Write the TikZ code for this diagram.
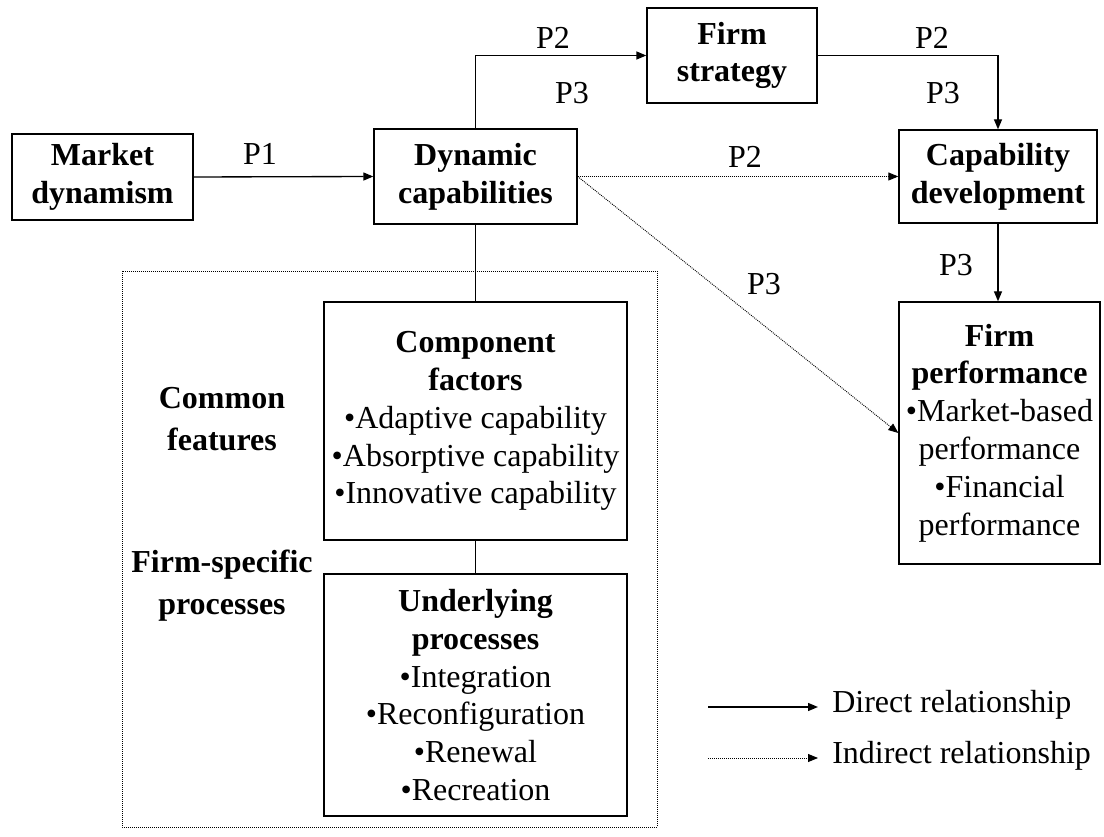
\documentclass[tikz,border=0pt]{standalone}
\usepackage{fontspec}
\setmainfont{Liberation Serif}
\usetikzlibrary{arrows.meta}
\begin{document}
\begin{tikzpicture}[x=0.75pt,y=-0.75pt,
  font=\fontsize{24}{28.4}\selectfont,
  box/.style={draw, line width=1pt, align=center, inner sep=0pt},
  conn/.style={line width=1pt, -{Triangle[length=7.5pt,width=6pt]}},
  dotconn/.style={line width=0.7pt, dash pattern=on 0.7pt off 0.8pt, -{Triangle[length=7.5pt,width=6pt]}},
  plain/.style={line width=1pt},
  lbl/.style={inner sep=0pt, align=center},
  sidelbl/.style={inner sep=0pt, align=center, font=\fontsize{24}{31.5}\selectfont\bfseries}]
\useasboundingbox (0,0) rectangle (1104,837);
% dotted frame
\draw[line width=0.7pt, dash pattern=on 0.7pt off 0.8pt] (122,271) rectangle (657,827);
% boxes
\node[box, minimum width=135.75pt, minimum height=64.5pt] (md) at (102.5,177) {\textbf{Market}\\\textbf{dynamism}};
\node[box, minimum width=152.25pt, minimum height=71.25pt] (dyn) at (475.5,176.5) {\textbf{Dynamic}\\\textbf{capabilities}};
\node[box, minimum width=127.5pt, minimum height=71.25pt] (fs) at (732,55.5) {\textbf{Firm}\\\textbf{strategy}};
\node[box, minimum width=148.5pt, minimum height=69.75pt] (cap) at (998,176.5) {\textbf{Capability}\\\textbf{development}};
\node[box, minimum width=150.75pt, minimum height=196.5pt] (fp) at (999.5,433) {\textbf{Firm}\\\textbf{performance}\\•Market-based\\performance\\•Financial\\performance};
\node[box, minimum width=227.25pt, minimum height=178.5pt] (comp) at (475.5,421) {\textbf{Component}\\\textbf{factors}\\•Adaptive capability\\•Absorptive capability\\•Innovative capability};
\node[box, minimum width=227.25pt, minimum height=181.5pt] (und) at (475.5,695) {\textbf{Underlying}\\\textbf{processes}\\•Integration\\•Reconfiguration\\•Renewal\\•Recreation};
% side labels
\node[sidelbl] (cf) at (222,419) {Common\\features};
\node[sidelbl] (fsp) at (222,586) {Firm-specific\\processes};
% connectors
\draw[conn] (md.east) -- (dyn.west);
\draw[conn] (dyn.north) |- (fs.west);
\draw[conn] (fs.east) -| (cap.north);
\draw[conn] (cap.south) -- (cap.south |- fp.north);
\draw[dotconn] (dyn.east) -- (cap.west);
\draw[dotconn] (dyn.east) -- (fp.west);
\draw[plain] (dyn.south) -- (comp.north);
\draw[plain] (comp.south) -- (und.north);
% P labels
\node[lbl] (p1) at (260,154) {P1};
\node[lbl] (p2a) at (553,38) {P2};
\node[lbl] (p3a) at (572,93) {P3};
\node[lbl] (p2b) at (932,38) {P2};
\node[lbl] (p3b) at (943,93) {P3};
\node[lbl] (p2c) at (745,157) {P2};
\node[lbl] (p3c) at (764,284) {P3};
\node[lbl] (p3d) at (956,265) {P3};
% legend
\coordinate (l1a) at (708,707);
\coordinate (l1b) at (818,707);
\coordinate (l2a) at (708,758);
\coordinate (l2b) at (818,758);
\draw[conn] (l1a) -- (l1b);
\draw[dotconn] (l2a) -- (l2b);
\node[lbl, anchor=west] (ld) at (832,705) {Direct relationship};
\node[lbl, anchor=west] (li) at (832,756) {Indirect relationship};
\end{tikzpicture}
\end{document}
